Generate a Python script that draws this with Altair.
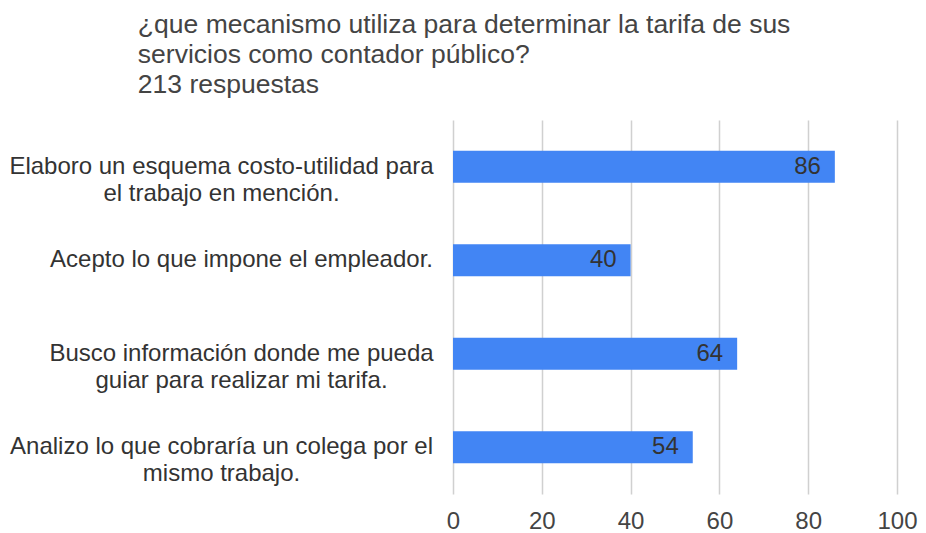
import altair as alt
import pandas as pd

categories = [
    "Elaboro un esquema costo-utilidad para|el trabajo en mención.",
    "Acepto lo que impone el empleador.",
    "Busco información donde me pueda|guiar para realizar mi tarifa.",
    "Analizo lo que cobraría un colega por el|mismo trabajo.",
]
values = [86, 40, 64, 54]
x_ticks = [0, 20, 40, 60, 80, 100]
title_lines = [
    "¿que mecanismo utiliza para determinar la tarifa de sus",
    "servicios como contador público?",
    "213 respuestas",
]

df = pd.DataFrame({"cat": categories, "val": values})
FONT = "Liberation Sans"

y_enc = alt.Y(
    "cat:N",
    sort=categories,
    title=None,
    scale=alt.Scale(paddingInner=0.66, paddingOuter=0.33),
    axis=alt.Axis(
        domain=False,
        ticks=False,
        grid=False,
        labelAlign="center",
        labelBaseline="middle",
        labelPadding={
            "condition": {"test": "length(split(datum.value, '|')[0]) > 36", "value": 232},
            "value": 212,
        },
        labelExpr="split(datum.label, '|')",
        labelLineHeight=27,
        labelFont=FONT,
        labelFontSize=24,
        labelColor="#333333",
        labelLimit=600,
    ),
)

bars = alt.Chart(df).mark_bar(color="#4285F4").encode(
    x=alt.X(
        "val:Q",
        title=None,
        scale=alt.Scale(domain=[0, 100]),
        axis=alt.Axis(
            values=x_ticks,
            domain=False,
            ticks=False,
            grid=True,
            gridColor="#d0d0d0",
            gridWidth=1.5,
            labelFlush=False,
            labelFont=FONT,
            labelFontSize=24,
            labelColor="#444444",
            labelPadding=15,
        ),
    ),
    y=y_enc,
)

texts = alt.Chart(df).mark_text(
    align="right", baseline="middle", dx=-14, font=FONT, fontSize=24, color="#333333"
).encode(
    x="val:Q",
    y=alt.Y("cat:N", sort=categories),
    text="val:Q",
)

chart = (
    alt.layer(bars, texts)
    .properties(
        width=444,
        height=374,
        padding={"left": 0, "top": 3, "right": 0, "bottom": 0},
        title=alt.TitleParams(
            text=title_lines,
            anchor="start",
            frame="bounds",
            font=FONT,
            fontSize=26.5,
            fontWeight="normal",
            color="#444444",
            lineHeight=30,
            offset=22,
            dx=129,
        ),
    )
    .configure_view(stroke=None)
)

chart.save("out.html", embed_options={"renderer": "svg", "actions": False})
